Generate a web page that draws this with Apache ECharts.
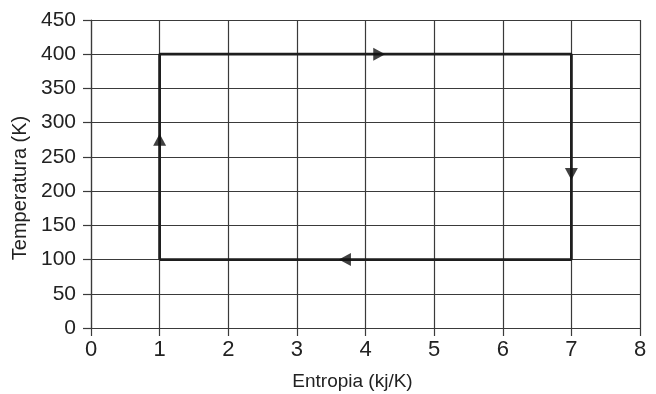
<!DOCTYPE html>
<html>
<head>
<meta charset="utf-8">
<script src="https://cdn.jsdelivr.net/npm/echarts@6/dist/echarts.min.js"></script>
<style>
  html, body { margin: 0; padding: 0; background: #fff; }
  #chart { width: 656px; height: 394px; }
</style>
</head>
<body>
<div id="chart"></div>
<script>
// Carnot cycle on a T–S diagram
const cycleEntropy = [1, 1, 7, 7, 1];
const cycleTemperature = [100, 400, 400, 100, 100];

// Direction markers along the cycle: position and heading
const arrowEntropy = [4.2, 7, 3.7, 1];
const arrowTemperature = [400, 225, 100, 275];
const arrowHeading = [-90, 180, 90, 0]; // triangle rotation, degrees

const xTicks = [0, 1, 2, 3, 4, 5, 6, 7, 8];
const yTicks = [0, 50, 100, 150, 200, 250, 300, 350, 400, 450];

const FONT = '"Liberation Sans", Arial, sans-serif';
const GRID_COLOR = '#3a3a3a';

const chart = echarts.init(document.getElementById('chart'), null, { renderer: 'canvas' });

const cycleData = cycleEntropy.map((s, i) => [s, cycleTemperature[i]]);
const arrowData = arrowEntropy.map((s, i) => ({
  value: [s, arrowTemperature[i]],
  symbolRotate: arrowHeading[i]
}));

chart.setOption({
  animation: false,
  backgroundColor: '#fff',
  grid: {
    left: 91, right: 16, top: 20, bottom: 66,
    containLabel: false,
    outerBoundsMode: 'none'
  },
  xAxis: {
    type: 'value',
    min: xTicks[0],
    max: xTicks[xTicks.length - 1],
    interval: 1,
    name: 'Entropia (kj/K)',
    nameLocation: 'middle',
    nameGap: 44,
    nameTextStyle: { fontFamily: FONT, fontSize: 19, color: '#222', padding: [0, 26, 0, 0] },
    axisLine: { show: true, lineStyle: { color: GRID_COLOR, width: 1.2 } },
    axisTick: { show: true, length: 8, lineStyle: { color: GRID_COLOR, width: 1.2 } },
    axisLabel: { fontFamily: FONT, fontSize: 22, color: '#222', margin: 11 },
    splitLine: { show: true, lineStyle: { color: GRID_COLOR, width: 1.2 } }
  },
  yAxis: {
    type: 'value',
    min: yTicks[0],
    max: yTicks[yTicks.length - 1],
    interval: 50,
    name: 'Temperatura (K)',
    nameLocation: 'middle',
    nameGap: 54,
    nameRotate: 90,
    nameTextStyle: { fontFamily: FONT, fontSize: 20, color: '#222', padding: [0, 28, 0, 0] },
    axisLine: { show: true, lineStyle: { color: GRID_COLOR, width: 1.2 } },
    axisTick: { show: true, length: 8, lineStyle: { color: GRID_COLOR, width: 1.2 } },
    axisLabel: { fontFamily: FONT, fontSize: 21, color: '#222', margin: 15 },
    splitLine: { show: true, lineStyle: { color: GRID_COLOR, width: 1.2 } }
  },
  series: [
    {
      type: 'line',
      data: cycleData,
      symbol: 'none',
      lineStyle: { color: '#1e1e1e', width: 2.8 },
      z: 3
    },
    {
      type: 'scatter',
      data: arrowData,
      symbol: 'triangle',
      symbolSize: [13, 12],
      itemStyle: { color: '#111' },
      z: 4
    }
  ]
});
</script>
</body>
</html>
